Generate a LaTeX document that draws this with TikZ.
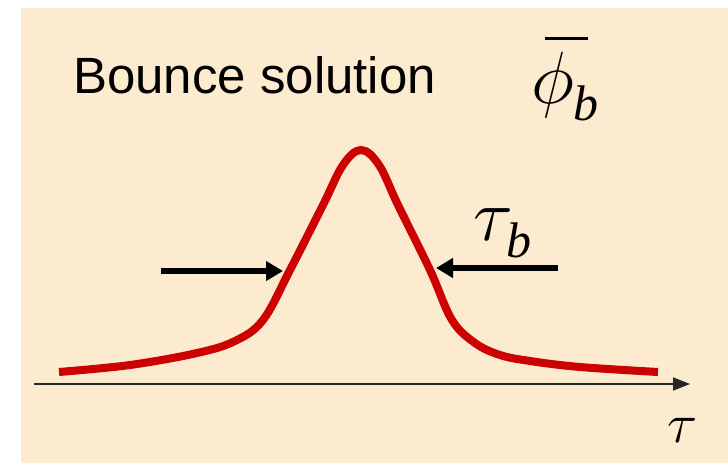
\RequirePackage{fix-cm}
\documentclass[tikz,border=0pt]{standalone}
\usepackage{fontspec}
\setmainfont{Liberation Serif}
\newfontfamily\arialfont{Liberation Sans}
\usetikzlibrary{arrows.meta}
\definecolor{bgpeach}{HTML}{FDEBCF}
\definecolor{curvered}{HTML}{CC0000}
\tikzset{
  sanslabel/.style={inner sep=0pt, anchor=base west, font=\arialfont\fontsize{51}{60}\selectfont},
  bigmath/.style={inner sep=0pt, anchor=base west, font=\fontsize{74}{80}\selectfont},
  submath/.style={inner sep=0pt, anchor=base west, font=\itshape\fontsize{50}{56}\selectfont},
  axismath/.style={inner sep=0pt, anchor=base west, font=\fontsize{56}{60}\selectfont},
  fatarrow/.style={line width=6pt, -{Triangle[length=17pt,width=19pt]}},
  axisarrow/.style={line width=2pt, draw=black!85, -{Triangle[length=17pt,width=13pt]}},
  bounce/.style={line width=8pt, draw=curvered, line join=round}
}
\begin{document}
\begin{tikzpicture}[x=1pt,y=-1pt]
\useasboundingbox (0,0) rectangle (728,463);
\fill[bgpeach] (21,8) rectangle (728,463);
% title
\node[sanslabel] (title) at (73,93) {Bounce solution};
% phi bar b
\node[bigmath] (phi) at (531,103) {$\phi$};
\node[submath] (phisub) at (573,120) {b};
\draw[line width=3pt] (545,38) -- (588,38);
% axis
\coordinate (axstart) at (34,384);
\coordinate (axend) at (690,384);
\draw[axisarrow] (axstart) -- (axend);
\node[axismath] (tau) at (667,442) {$\tau$};
% curve
\draw[bounce] plot[smooth, tension=0.6] coordinates {
 (59,372) (130,365) (197,353) (235,341) (263,320) (290,270) (323,205) (343,165) (361,150)
 (379,165) (398,205) (430,270) (452,320) (475,343) (500,355) (530,361) (580,367) (658,372)};
% arrows
\coordinate (la) at (161,271);
\coordinate (lt) at (283,271);
\coordinate (ra) at (558,268);
\coordinate (rt) at (436,268);
\draw[fatarrow] (la) -- (lt);
\draw[fatarrow] (ra) -- (rt);
% tau_b
\node[bigmath] (taub) at (473,240) {$\tau$};
\node[submath] (taubsub) at (506,257) {b};
\end{tikzpicture}
\end{document}
